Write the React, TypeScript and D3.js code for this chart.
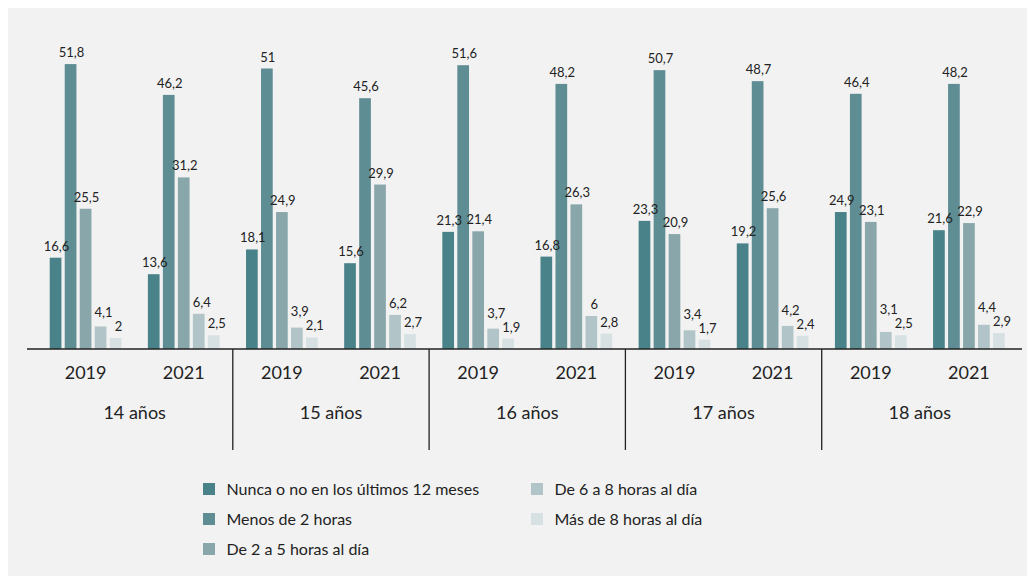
import React from "react";
import * as d3 from "d3";

const groups = ["14 años", "15 años", "16 años", "17 años", "18 años"];
const years = ["2019", "2021"];
const seriesNames = [
  "Nunca o no en los últimos 12 meses",
  "Menos de 2 horas",
  "De 2 a 5 horas al día",
  "De 6 a 8 horas al día",
  "Más de 8 horas al día",
];
const seriesColors = ["#4a8289", "#5f8d94", "#89a7ab", "#b1c4c8", "#d7e1e4"];

// values[group][year]
const nunca = [[16.6, 13.6], [18.1, 15.6], [21.3, 16.8], [23.3, 19.2], [24.9, 21.6]];
const menos2 = [[51.8, 46.2], [51, 45.6], [51.6, 48.2], [50.7, 48.7], [46.4, 48.2]];
const de2a5 = [[25.5, 31.2], [24.9, 29.9], [21.4, 26.3], [20.9, 25.6], [23.1, 22.9]];
const de6a8 = [[4.1, 6.4], [3.9, 6.2], [3.7, 6], [3.4, 4.2], [3.1, 4.4]];
const mas8 = [[2, 2.5], [2.1, 2.7], [1.9, 2.8], [1.7, 2.4], [2.5, 2.9]];
const seriesData = [nunca, menos2, de2a5, de6a8, mas8];

const fmt = (v: number) => String(v).replace(".", ",");

export default function App() {
  const W = 1027;
  const H = 583;
  const baseY = 349;
  const x0 = d3.scaleBand<string>().domain(groups).range([36.5, 1018]).padding(0);
  const gw = x0.bandwidth();
  const xYear = d3.scaleBand<string>().domain(years).range([0, gw]).padding(0);
  const cw = xYear.bandwidth();
  const xs = d3
    .scaleBand<number>()
    .domain([0, 1, 2, 3, 4])
    .range([cw / 2 - 35.85, cw / 2 + 35.85])
    .paddingInner(0.22)
    .paddingOuter(0);
  const y = d3.scaleLinear().domain([0, 60]).range([baseY, baseY - 330]);
  const font = "Lato, 'Noto Sans', sans-serif";
  const bw = xs.bandwidth();

  const legendPos = [
    [203, 483],
    [203, 513],
    [203, 543],
    [531, 483],
    [531, 513],
  ];

  const cells: { g: string; gi: number; yr: string; yi: number; cx: number }[] = [];
  groups.forEach((g, gi) =>
    years.forEach((yr, yi) => cells.push({ g, gi, yr, yi, cx: x0(g)! + xYear(yr)! }))
  );

  return (
    <svg width={W} height={H} style={{ position: "absolute", left: 0, top: 0 }} fontFamily={font}>
      <rect x={8} y={8} width={W - 8} height={568} fill="#f2f2f2" />
      {/* bars */}
      {cells.map((c) =>
        seriesData.map((sd, si) => {
          const v = sd[c.gi][c.yi];
          return (
            <rect
              key={`b-${c.g}-${c.yr}-${si}`}
              x={c.cx + xs(si)!}
              y={y(v)}
              width={bw}
              height={baseY - y(v)}
              fill={seriesColors[si]}
            />
          );
        })
      )}
      {/* value labels */}
      {cells.map((c) => {
        const baselines = seriesData.map((sd) => y(sd[c.gi][c.yi]) - 7);
        if (baselines[3] > baselines[4] - 14) baselines[3] = baselines[4] - 14;
        return seriesData.map((sd, si) => {
          const v = sd[c.gi][c.yi];
          const dx = si >= 3 ? 3 : 1;
          return (
            <text
              key={`l-${c.g}-${c.yr}-${si}`}
              x={c.cx + xs(si)! + bw / 2 + dx}
              y={baselines[si]}
              textAnchor="middle"
              fontSize={13}
              fill="#222"
            >
              {fmt(v)}
            </text>
          );
        });
      })}
      {/* year labels */}
      {cells.map((c) => (
        <text key={`y-${c.g}-${c.yr}`} x={c.cx + cw / 2} y={379} textAnchor="middle" fontSize={18} fill="#222">
          {c.yr}
        </text>
      ))}
      {/* group labels and separators */}
      {groups.map((g, gi) => {
        const gx = x0(g)!;
        return (
          <g key={g}>
            <text x={gx + gw / 2} y={419} textAnchor="middle" fontSize={18} fill="#222">
              {g}
            </text>
            {gi > 0 && <line x1={gx} x2={gx} y1={baseY} y2={450} stroke="#222" strokeWidth={1.3} />}
          </g>
        );
      })}
      <line x1={27} x2={1022} y1={baseY} y2={baseY} stroke="#222" strokeWidth={1.5} />
      {seriesNames.map((s, i) => (
        <g key={s}>
          <rect x={legendPos[i][0]} y={legendPos[i][1]} width={12} height={12} fill={seriesColors[i]} />
          <text x={legendPos[i][0] + 23.5} y={legendPos[i][1] + 12} fontSize={16} fill="#222">
            {s}
          </text>
        </g>
      ))}
    </svg>
  );
}
